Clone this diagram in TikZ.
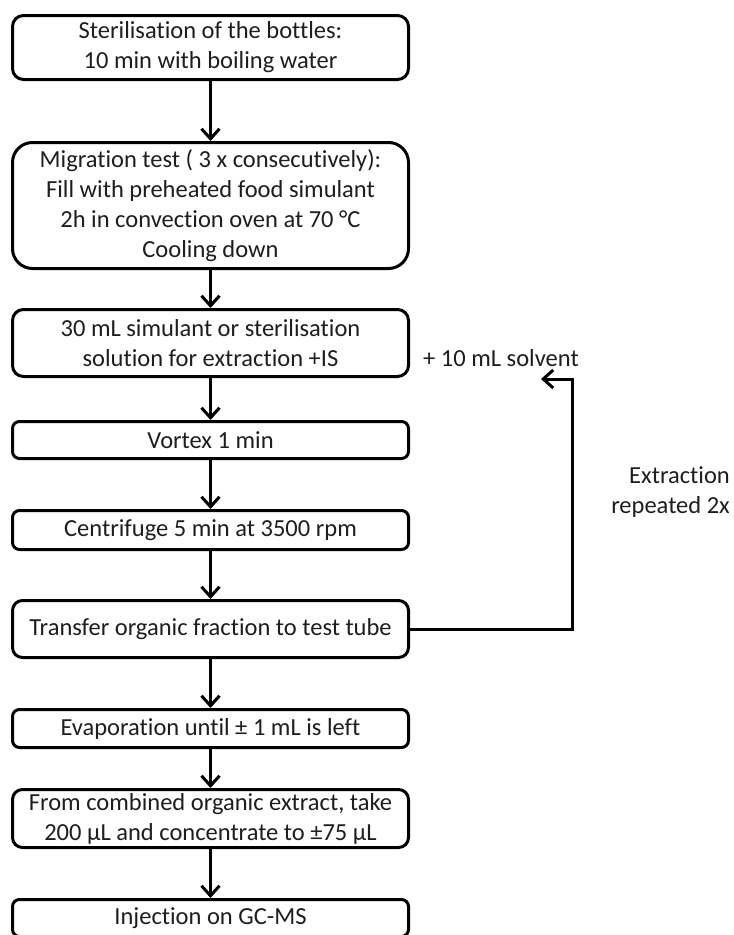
\documentclass[tikz,border=0pt]{standalone}
\usepackage{fontspec}
\setmainfont{Carlito}[Ligatures=NoCommon]
\usetikzlibrary{arrows.meta}
\definecolor{txt}{RGB}{30,30,30}
\tikzset{
  stepbox/.style={draw=black, line width=3pt, rectangle, minimum width=396pt,
    inner sep=0pt, align=center, text=txt,
    font=\fontsize{24.5}{30}\selectfont},
  arr/.style={draw=black, line width=3pt, -{Straight Barb[length=10pt,width=18pt,line width=3pt]}},
  lbl/.style={text=txt, font=\fontsize{24.5}{30}\selectfont, inner sep=0pt}
}
\begin{document}
\begin{tikzpicture}[x=1pt,y=-1pt]
\useasboundingbox (0,0) rectangle (734,935);
\clip (0,0) rectangle (734,935);
\fill[white] (0,0) rectangle (734,935);

\node[stepbox, minimum height=64pt, rounded corners=11pt] (b1) at (210.5,47.5)
  {Sterilisation of the bottles:\\10 min with boiling water};
\node[stepbox, minimum height=126pt, rounded corners=20pt] (b2) at (210.5,205.5)
  {Migration test ( 3 x consecutively):\\Fill with preheated food simulant\\2h in convection oven at 70 °C\\Cooling down};
\node[stepbox, minimum height=67pt, rounded corners=11pt] (b3) at (210.5,343)
  {30 mL simulant or sterilisation\\solution for extraction +IS};
\node[stepbox, minimum height=37pt, rounded corners=7pt] (b4) at (210.5,440)
  {Vortex 1 min};
\node[stepbox, minimum height=39pt, rounded corners=7pt] (b5) at (210.5,530)
  {Centrifuge 5 min at 3500 rpm};
\node[stepbox, minimum height=57pt, rounded corners=10pt] (b6) at (210.5,629)
  {Transfer organic fraction to test tube};
\node[stepbox, minimum height=38pt, rounded corners=7pt] (b7) at (210.5,728.5)
  {Evaporation until ± 1 mL is left};
\node[stepbox, minimum height=58pt, rounded corners=10pt] (b8) at (210.5,818.5)
  {From combined organic extract, take\\200 µL and concentrate to ±75 µL};
\node[stepbox, minimum height=37pt, rounded corners=7pt] (b9) at (210.5,918)
  {Injection on GC-MS};

\draw[arr] (b1) -- (b2);
\draw[arr] (b2) -- (b3);
\draw[arr] (b3) -- (b4);
\draw[arr] (b4) -- (b5);
\draw[arr] (b5) -- (b6);
\draw[arr] (b6) -- (b7);
\draw[arr] (b7) -- (b8);
\draw[arr] (b8) -- (b9);

\coordinate (fbC) at (572,379);
\coordinate (fbT) at (541,379);
\draw[arr] (b6.east) -| (fbC) -- (fbT);

\node[lbl, anchor=base west] (solv) at (423,366) {+ 10 mL solvent};
\node[lbl, anchor=east, align=right] (rep) at (730,492) {Extraction\\repeated 2x};
\end{tikzpicture}
\end{document}
